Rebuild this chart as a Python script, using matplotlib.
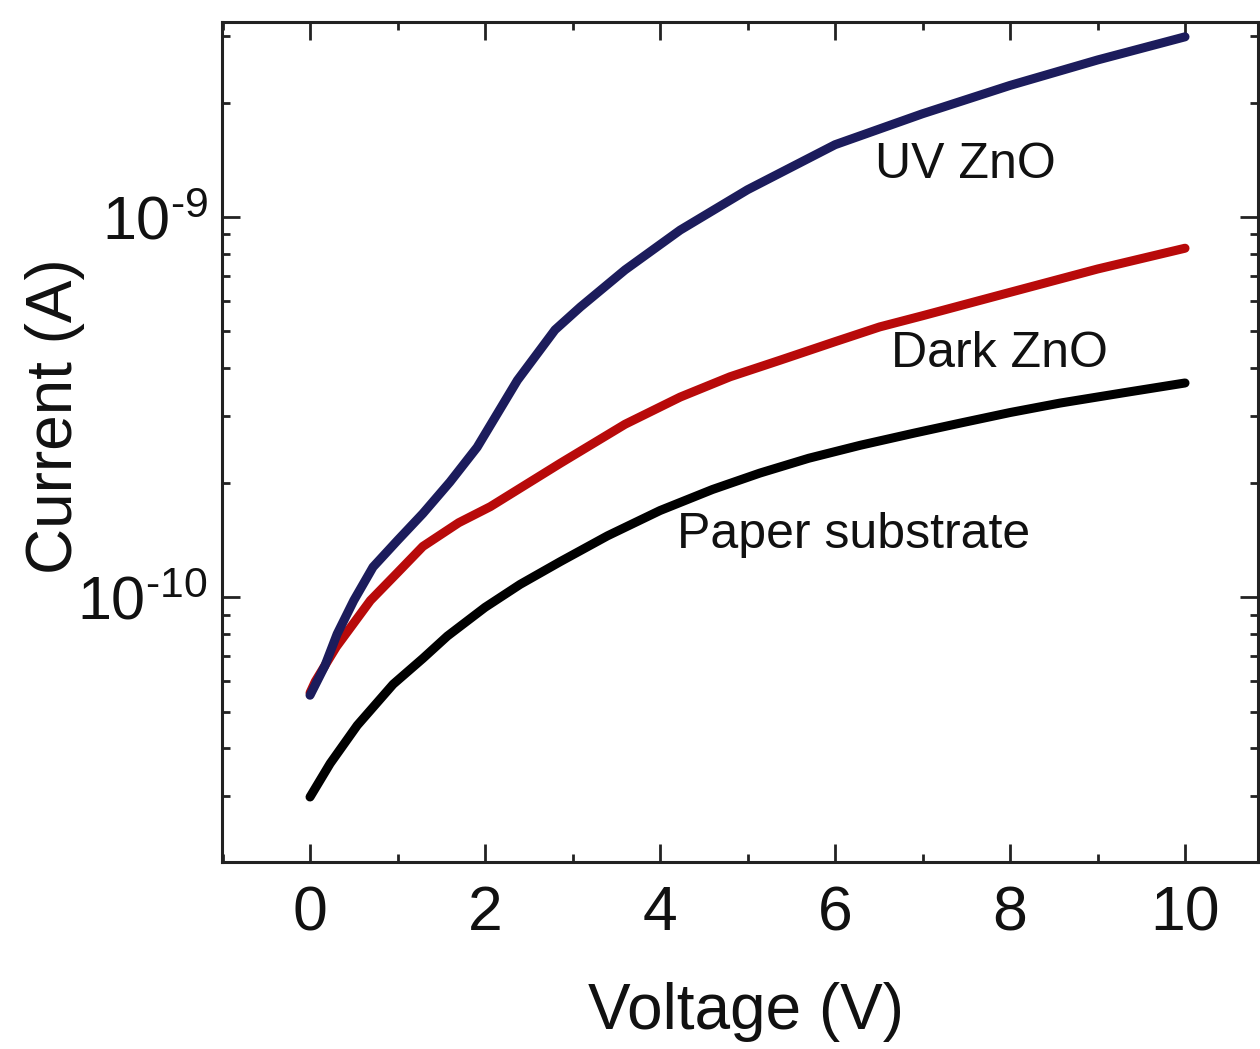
import matplotlib
matplotlib.use("Agg")
import matplotlib.pyplot as plt
from matplotlib.ticker import MultipleLocator, LogLocator, NullFormatter, FuncFormatter, FixedLocator
import numpy as np

plt.rcParams['font.family'] = ['Liberation Sans', 'DejaVu Sans']
plt.rcParams['mathtext.fontset'] = 'custom'
plt.rcParams['mathtext.rm'] = 'Liberation Sans'
plt.rcParams['mathtext.it'] = 'Liberation Sans'
plt.rcParams['mathtext.default'] = 'regular'
plt.rcParams['axes.unicode_minus'] = False

# ---- data ----
uv_v = [0, 0.17, 0.31, 0.5, 0.72, 1.0, 1.29, 1.6, 1.91, 2.37, 2.8, 3.09, 3.6, 4.23, 5.0,
        6.0, 7.0, 8.0, 9.0, 10]
uv_i = [5.52e-11, 6.6e-11, 8.0e-11, 9.8e-11, 1.20e-10, 1.41e-10, 1.66e-10, 2.01e-10, 2.48e-10,
        3.72e-10, 5.05e-10, 5.80e-10, 7.26e-10, 9.24e-10, 1.18e-9, 1.55e-9, 1.87e-9, 2.22e-9,
        2.59e-9, 2.98e-9]

dark_v = [0, 0.06, 0.3, 0.69, 1.0, 1.29, 1.7, 2.06, 2.86, 3.6, 4.23, 4.8, 5.37, 6.0, 6.51,
          7.0, 7.89, 9.0, 10]
dark_i = [5.6e-11, 6.0e-11, 7.4e-11, 9.8e-11, 1.16e-10, 1.36e-10, 1.57e-10, 1.73e-10, 2.25e-10,
          2.85e-10, 3.36e-10, 3.8e-10, 4.20e-10, 4.7e-10, 5.14e-10, 5.5e-10, 6.24e-10, 7.3e-10,
          8.28e-10]

paper_v = [0, 0.23, 0.54, 0.95, 1.29, 1.57, 2.0, 2.4, 2.86, 3.4, 4.0, 4.6, 5.14, 5.7, 6.29,
           6.9, 7.43, 8.0, 8.57, 9.3, 10]
paper_i = [2.98e-11, 3.65e-11, 4.6e-11, 5.9e-11, 6.9e-11, 7.9e-11, 9.4e-11, 1.08e-10, 1.24e-10,
           1.45e-10, 1.69e-10, 1.92e-10, 2.12e-10, 2.32e-10, 2.51e-10, 2.70e-10, 2.87e-10,
           3.06e-10, 3.24e-10, 3.45e-10, 3.66e-10]

y_major_ticks = [1e-10, 1e-9]

labels = ["UV ZnO", "Dark ZnO", "Paper substrate"]
label_pos = [(6.46, 1.27e-9), (6.64, 4.03e-10), (4.19, 1.35e-10)]
colors = ["#1c1c5c", "#b80a0a", "#000000"]


def sci_label(val, pos):
    e = int(np.round(np.log10(val)))
    return r"$10^{\text{%d}}$" % e


# ---- figure ----
fig = plt.figure(figsize=(12.6, 10.49), dpi=100)
ax = fig.add_axes([222/1260, (1049-862)/1049, (1258-222)/1260, (862-22)/1049])

lw = 6.5
kw = dict(lw=lw, solid_capstyle='round', solid_joinstyle='round')
ax.plot(paper_v, paper_i, color=colors[2], **kw)
ax.plot(dark_v, dark_i, color=colors[1], **kw)
ax.plot(uv_v, uv_i, color=colors[0], **kw)

ax.set_yscale('log')
ax.set_xlim(-1.006, 10.834)
ax.set_ylim(2.01e-11, 3.26e-9)

ax.xaxis.set_major_locator(MultipleLocator(2))
ax.xaxis.set_minor_locator(MultipleLocator(1))
ax.yaxis.set_major_locator(FixedLocator(y_major_ticks))
ax.yaxis.set_minor_locator(LogLocator(base=10, subs=range(2, 10), numticks=20))
ax.yaxis.set_major_formatter(FuncFormatter(sci_label))
ax.yaxis.set_minor_formatter(NullFormatter())

for s in ax.spines.values():
    s.set_linewidth(2.2)
    s.set_color('#222222')

ax.tick_params(which='both', direction='in', top=True, right=True, width=2.0, color='#222222')
ax.tick_params(which='major', length=13)
ax.tick_params(which='minor', length=6)
ax.tick_params(axis='x', which='major', labelsize=45, pad=16, labelcolor='#111111')
ax.tick_params(axis='y', which='major', labelsize=44, pad=10, labelcolor='#111111')

ax.set_xlabel("Voltage (V)", fontsize=46, color='#111111', va='center')
ax.xaxis.set_label_coords(0.506, -0.178)
ax.set_ylabel("Current (A)", fontsize=46, color='#111111', va='center')
ax.yaxis.set_label_coords(-0.161, 0.531)

for txt, (x, y) in zip(labels, label_pos):
    ax.text(x, y, txt, fontsize=36, color='#111111', ha='left', va='baseline')

fig.savefig("out.png", dpi=100, facecolor='white')
